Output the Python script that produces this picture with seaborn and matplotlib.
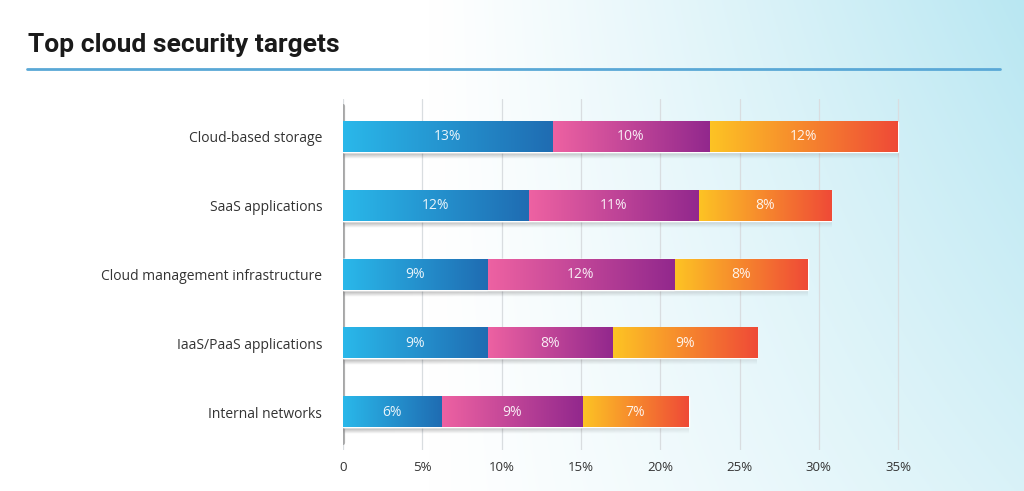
import matplotlib.pyplot as plt
import matplotlib.colors as mcolors
from matplotlib.lines import Line2D
import numpy as np
import seaborn as sns

categories = ["Cloud-based storage", "SaaS applications", "Cloud management infrastructure",
              "IaaS/PaaS applications", "Internal networks"]
# segment lengths as drawn (percent)
seg_blue = [13.2, 11.7, 9.1, 9.1, 6.2]
seg_pink = [9.9, 10.7, 11.8, 7.9, 8.9]
seg_orange = [11.9, 8.4, 8.4, 9.1, 6.7]
# printed labels
lab_blue = ["13%", "12%", "9%", "9%", "6%"]
lab_pink = ["10%", "11%", "12%", "8%", "9%"]
lab_orange = ["12%", "8%", "8%", "9%", "7%"]
xticks = [0, 5, 10, 15, 20, 25, 30, 35]
xticklabels = ["0", "5%", "10%", "15%", "20%", "25%", "30%", "35%"]

sns.set_style("white")
plt.rcParams["font.family"] = ["Open Sans", "DejaVu Sans"]

fig = plt.figure(figsize=(10.24, 4.91), dpi=100)

# background gradient
bg = fig.add_axes([0, 0, 1, 1], zorder=-10)
gx, gy = np.meshgrid(np.linspace(0, 1, 400), np.linspace(0, 1, 200))
t = np.clip((gx - 0.42) / 0.58, 0, 1) ** 1.1 * (1 - 0.45 * gy)
white = np.array([1.0, 1.0, 1.0])
cyan = np.array(mcolors.to_rgb("#b9e7f2"))
img = white[None, None, :] * (1 - t[..., None]) + cyan[None, None, :] * t[..., None]
bg.imshow(img, aspect="auto", extent=[0, 1, 1, 0])
bg.set_axis_off()

ax = fig.add_axes([343 / 1024, 1 - 450 / 491, (36 * 15.86) / 1024, 351 / 491])
ax.patch.set_alpha(0)

cum1 = list(np.array(seg_blue))
cum2 = list(np.array(seg_blue) + np.array(seg_pink))
cum3 = list(np.array(cum2) + np.array(seg_orange))
zeros = [0] * len(categories)

layers = [
    (cum3, cum2, ("#fdc424", "#ef4a37"), lab_orange),
    (cum2, cum1, ("#ee62a2", "#92288d"), lab_pink),
    (cum1, zeros, ("#2ab8ea", "#1f6cb2"), lab_blue),
]

bar_h = 0.44
for ends, starts, (c0, c1), labels in layers:
    n0 = len(ax.patches)
    sns.barplot(x=ends, y=categories, color=c1, width=bar_h, ax=ax, orient="h",
                saturation=1, zorder=2)
    cmap = mcolors.LinearSegmentedColormap.from_list("g", [c0, c1])
    for i, p in enumerate(ax.patches[n0:]):
        y0 = p.get_y()
        h = p.get_height()
        left = starts[i]
        right = p.get_x() + p.get_width()
        ax.imshow(np.linspace(0, 1, 256)[None, :], cmap=cmap, aspect="auto",
                  extent=[left, right, y0 + h, y0], zorder=3, interpolation="bicubic")
        ax.text((left + right) / 2, y0 + h / 2, labels[i], ha="center", va="center",
                color="white", alpha=0.9, fontsize=10, zorder=5)

# soft shadow beneath each full bar
for i, tot in enumerate(cum3):
    yb = i + bar_h / 2
    sh = np.linspace(0.35, 0, 20)[:, None] * np.linspace(1, 0.3, 100)[None, :]
    rgba = np.zeros((20, 100, 4))
    rgba[..., 3] = sh
    ax.imshow(rgba, aspect="auto", extent=[0, tot, yb + 0.1, yb], zorder=1)

ax.axvline(0, color="#8f8f8f", lw=3, alpha=0.7, zorder=1, ymin=0.02, ymax=0.98)

ax.set_xlim(0, 36)
ax.set_ylim(4.55, -0.55)
ax.set_xticks(xticks)
ax.set_xticklabels(xticklabels, fontsize=9.5, color="#333333")
ax.tick_params(axis="y", labelsize=10, colors="#333333", pad=15, length=0)
ax.tick_params(axis="x", pad=8, length=0)
ax.grid(axis="x", color="#d9dde0", lw=0.9, zorder=0)
ax.set_axisbelow(True)
ax.set_xlabel("")
ax.set_ylabel("")
sns.despine(ax=ax, left=True, bottom=True)

fig.text(28 / 1024, 1 - 52 / 491, "Top cloud security targets",
         family=["Roboto", "DejaVu Sans"], fontweight="bold",
         fontsize=19, color="#1a1a1a", va="baseline")
fig.add_artist(Line2D([27 / 1024, 1000 / 1024], [1 - 69 / 491, 1 - 69 / 491],
                      color="#5aa8d6", lw=2))

fig.savefig("out.png", dpi=100)
